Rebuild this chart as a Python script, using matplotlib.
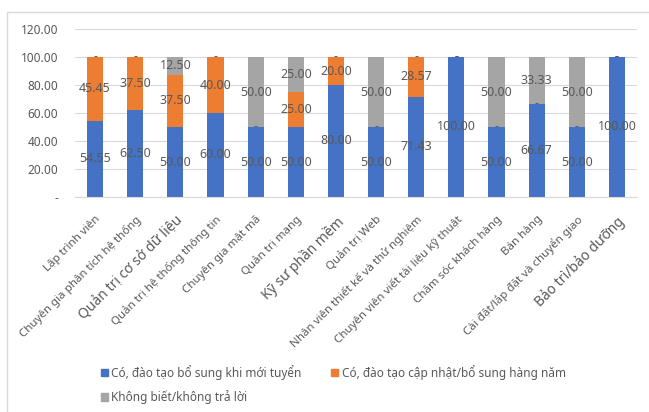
import matplotlib
matplotlib.use('Agg')
import matplotlib.pyplot as plt
from matplotlib.patches import Patch, Rectangle
import numpy as np

plt.rcParams['font.family'] = ['Noto Sans', 'DejaVu Sans']

# Nghề nghiệp và tỷ lệ (%) theo hình thức đào tạo
jobs = [
    "Lập trình viên", "Chuyên gia phân tích hệ thống", "Quản trị cơ sở dữ liệu",
    "Quản trị hệ thống thông tin", "Chuyên gia mật mã", "Quản trị mạng",
    "Kỹ sư phần mềm", "Quản trị Web", "Nhân viên thiết kế và thử nghiệm",
    "Chuyên viên viết tài liệu kỹ thuật", "Chăm sóc khách hàng", "Bán hàng",
    "Cài đặt/lắp đặt và chuyển giao", "Bảo trì/bảo dưỡng",
]
new_hire = [54.55, 62.50, 50.00, 60.00, 50.00, 50.00, 80.00, 50.00, 71.43, 100.00, 50.00, 66.67, 50.00, 100.00]
yearly = [45.45, 37.50, 37.50, 40.00, 0, 25.00, 20.00, 0, 28.57, 0, 0, 0, 0, 0]
unknown = [0, 0, 12.50, 0, 50.00, 25.00, 0, 50.00, 0, 0, 50.00, 33.33, 50.00, 0]

series_names = [
    "Có, đào tạo bổ sung khi mới tuyển",
    "Có, đào tạo cập nhật/bổ sung hàng năm",
    "Không biết/không trả lời",
]
colors = ['#4472C4', '#ED7D31', '#A5A5A5']
big_labels = {"Quản trị cơ sở dữ liệu", "Kỹ sư phần mềm", "Bảo trì/bảo dưỡng"}

W, H = 649, 412
fig = plt.figure(figsize=(W / 100, H / 100), dpi=100)
ax = fig.add_axes([75 / W, (H - 197) / H, (637 - 75) / W, (197 - 29) / H])

# khung viền của biểu đồ
fig.patches.append(Rectangle((7 / W, -0.1), 1.1, (H - 12) / H + 0.1, transform=fig.transFigure,
                             fill=False, edgecolor='#D9D9D9', linewidth=1.0))

x = np.arange(len(jobs))
bottom = np.zeros(len(jobs))
for vals, col in zip([new_hire, yearly, unknown], colors):
    vals = np.array(vals, dtype=float)
    ax.bar(x, vals, width=0.4, bottom=bottom, color=col, zorder=2)
    for xi, b, v in zip(x, bottom, vals):
        txt = '-' if v == 0 else f'{v:.2f}'
        ax.text(xi, b + v / 2, txt, ha='center', va='center', fontsize=9,
                color='#595959', zorder=3)
    bottom += vals

ax.set_xlim(-0.5, len(jobs) - 0.5)
ax.set_ylim(0, 120)
yt = np.arange(0, 121, 20)
ax.set_yticks(yt)
ax.set_yticklabels(['-' if v == 0 else f'{v:.2f}' for v in yt])
ax.tick_params(axis='y', length=0, pad=12, labelsize=8.5, labelcolor='#595959')
ax.tick_params(axis='x', length=0, pad=12, labelcolor='#595959')
ax.set_xticks(x)
ax.set_xticklabels(jobs, rotation=45, ha='right', rotation_mode='anchor')
for lab in ax.get_xticklabels():
    lab.set_fontsize(10 if lab.get_text() in big_labels else 8.3)

ax.grid(axis='y', color='#D9D9D9', linewidth=0.8, zorder=0)
for s in ['top', 'right', 'left']:
    ax.spines[s].set_visible(False)
ax.spines['bottom'].set_color('#D9D9D9')

handles = [Patch(color=colors[0]), Patch(color=colors[2]), Patch(color=colors[1])]
labels = [series_names[0], series_names[2], series_names[1]]
fig.legend(handles, labels, ncol=2, loc='upper left', bbox_to_anchor=(90 / W, 1 - 354 / H),
           frameon=False, fontsize=8.5, handlelength=0.6, handleheight=0.6, handletextpad=0.3,
           columnspacing=2.5, labelspacing=0.9, labelcolor='#595959')

fig.savefig('out.png', dpi=100)
